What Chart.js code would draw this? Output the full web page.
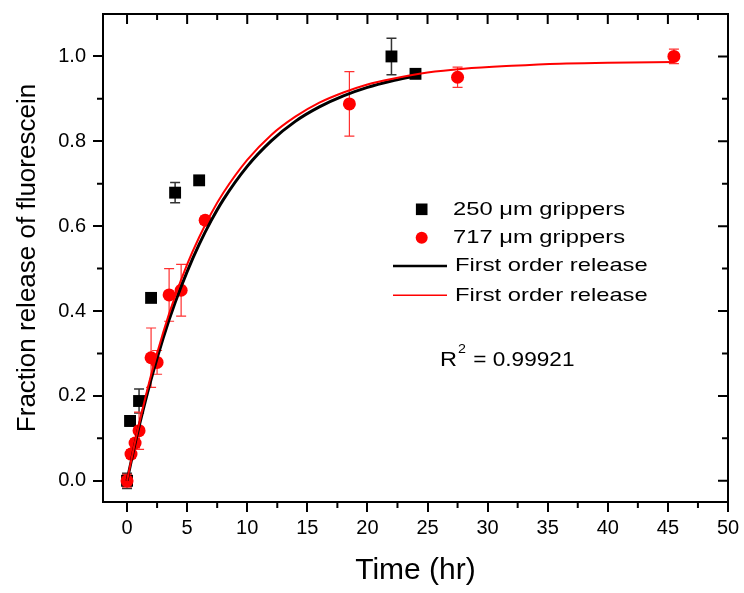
<!DOCTYPE html>
<html><head><meta charset="utf-8">
<script src="https://cdn.jsdelivr.net/npm/chart.js@4.4.0/dist/chart.umd.min.js"></script>
<style>html,body{margin:0;padding:0;background:#fff;}#wrap{width:744px;height:593px;}</style>
</head><body><div id="wrap"><canvas id="c" width="744" height="593"></canvas></div>
<script>
// ---- data ----
const blackTime = [0, 0.25, 1, 2, 4, 6, 22, 24];
const blackFrac = [0.0, 0.141, 0.188, 0.431, 0.679, 0.708, 1.0, 0.959];
const blackErr  = [0.018, 0.012, 0.028, 0.008, 0.024, 0.01, 0.043, 0.008];

const redTime = [0, 0.33, 0.67, 1, 2, 2.5, 3.5, 4.5, 6.5, 18.5, 27.5, 45.5];
const redFrac = [0.0, 0.063, 0.089, 0.118, 0.29, 0.279, 0.438, 0.449, 0.614, 0.888, 0.951, 1.0];
const redErr  = [0.015, 0.01, 0.01, 0.044, 0.07, 0.028, 0.062, 0.061, 0.01, 0.076, 0.024, 0.017];

const blackFitTime = [0, 0.5, 1, 2, 3, 4, 5, 6, 7, 8, 10, 12, 14, 16, 18, 20, 22, 24];
const blackFitFrac = [0, 0.066, 0.128, 0.239, 0.336, 0.420, 0.493, 0.557, 0.613, 0.662, 0.741, 0.801, 0.847, 0.881, 0.907, 0.927, 0.942, 0.954];

const redFitTime = [0, 0.5, 1, 2, 3, 4, 5, 6, 7, 8, 10, 12, 14, 16, 18, 20, 22, 25, 28, 32, 36, 40, 45.5];
const redFitFrac = [0, 0.069, 0.133, 0.249, 0.349, 0.435, 0.510, 0.574, 0.630, 0.678, 0.756, 0.815, 0.858, 0.891, 0.915, 0.934, 0.947, 0.962, 0.971, 0.978, 0.983, 0.985, 0.987];

const xTicks = [0, 5, 10, 15, 20, 25, 30, 35, 40, 45, 50];
const xMinorTicks = [2.5, 7.5, 12.5, 17.5, 22.5, 27.5, 32.5, 37.5, 42.5, 47.5];
const yTicks = [0.0, 0.2, 0.4, 0.6, 0.8, 1.0];
const yMinorTicks = [0.1, 0.3, 0.5, 0.7, 0.9];

const legendLabels = ['250 \u03bcm grippers', '717 \u03bcm grippers', 'First order release', 'First order release'];
const xTitle = 'Time (hr)';
const yTitle = 'Fraction release of fluorescein';
const r2Value = '0.99921';

// ---- chart ----
const FONT = "'Liberation Sans', Arial, sans-serif";
Chart.defaults.font.family = FONT;
Chart.defaults.color = '#000';

const pts = (xs, ys) => xs.map((v, i) => ({x: v, y: ys[i]}));

function drawErr(ctx, xs, ys, xv, yv, ev, color, lw) {
  ctx.save();
  ctx.strokeStyle = color; ctx.lineWidth = lw;
  for (let i = 0; i < xv.length; i++) {
    const px = xs.getPixelForValue(xv[i]);
    const y1 = ys.getPixelForValue(yv[i] + ev[i]);
    const y2 = ys.getPixelForValue(yv[i] - ev[i]);
    ctx.beginPath();
    ctx.moveTo(px, y1); ctx.lineTo(px, y2);
    ctx.moveTo(px - 5, y1); ctx.lineTo(px + 5, y1);
    ctx.moveTo(px - 5, y2); ctx.lineTo(px + 5, y2);
    ctx.stroke();
  }
  ctx.restore();
}
function sText(ctx, txt, x, y, size, sx) {
  ctx.save();
  ctx.font = size + 'px ' + FONT;
  ctx.fillStyle = '#000';
  ctx.textBaseline = 'middle'; ctx.textAlign = 'left';
  ctx.translate(x, y); ctx.scale(sx, 1);
  ctx.fillText(txt, 0, 0);
  ctx.restore();
}

const decor = {
  id: 'decor',
  beforeDatasetsDraw(chart) {
    const {ctx, scales: {x, y}} = chart;
    drawErr(ctx, x, y, blackTime, blackFrac, blackErr, '#333', 1.5);
    drawErr(ctx, x, y, redTime, redFrac, redErr, '#ff3030', 1.2);
  },
  afterDraw(chart) {
    const {ctx, chartArea: a, scales: {x, y}} = chart;
    ctx.save();
    ctx.strokeStyle = '#000'; ctx.lineWidth = 2;
    ctx.beginPath();
    ctx.moveTo(a.left - 1, a.top); ctx.lineTo(a.right, a.top); ctx.lineTo(a.right, a.bottom + 1);
    xTicks.forEach(v => { const p = x.getPixelForValue(v); ctx.moveTo(p, a.top); ctx.lineTo(p, a.top + 10); });
    xMinorTicks.forEach(v => { const p = x.getPixelForValue(v);
      ctx.moveTo(p, a.top); ctx.lineTo(p, a.top + 6);
      ctx.moveTo(p, a.bottom); ctx.lineTo(p, a.bottom + 6); });
    yTicks.forEach(v => { const p = y.getPixelForValue(v); ctx.moveTo(a.right, p); ctx.lineTo(a.right - 10, p); });
    yMinorTicks.forEach(v => { const p = y.getPixelForValue(v);
      ctx.moveTo(a.right, p); ctx.lineTo(a.right - 6, p);
      ctx.moveTo(a.left, p); ctx.lineTo(a.left - 6, p); });
    ctx.stroke();

    // legend
    ctx.fillStyle = '#000';
    ctx.fillRect(421.7 - 5.8, 209.3 - 5.8, 11.6, 11.6);
    ctx.fillStyle = '#ff0000';
    ctx.beginPath(); ctx.arc(421.7, 237.7, 6, 0, Math.PI * 2); ctx.fill();
    ctx.strokeStyle = '#000'; ctx.lineWidth = 2.5;
    ctx.beginPath(); ctx.moveTo(393, 266); ctx.lineTo(447, 266); ctx.stroke();
    ctx.strokeStyle = '#ff0000'; ctx.lineWidth = 1.5;
    ctx.beginPath(); ctx.moveTo(393, 295.3); ctx.lineTo(447, 295.3); ctx.stroke();
    sText(ctx, legendLabels[0], 453, 209.3, 19, 1.25);
    sText(ctx, legendLabels[1], 453, 237.7, 19, 1.25);
    sText(ctx, legendLabels[2], 455, 266, 19, 1.25);
    sText(ctx, legendLabels[3], 455, 295.3, 19, 1.25);

    // R^2
    sText(ctx, 'R', 440, 360, 21, 1.12);
    sText(ctx, '2', 458, 349, 13, 1.1);
    sText(ctx, ' = ' + r2Value, 467, 360, 20, 1.13);
    ctx.restore();
  }
};

new Chart(document.getElementById('c'), {
  type: 'scatter',
  data: {
    datasets: [
      { label: legendLabels[3], data: pts(redFitTime, redFitFrac), showLine: true, borderColor: '#ff0000',
        borderWidth: 2, pointRadius: 0, cubicInterpolationMode: 'monotone', order: 0 },
      { label: legendLabels[2], data: pts(blackFitTime, blackFitFrac), showLine: true, borderColor: '#000',
        borderWidth: 3, pointRadius: 0, cubicInterpolationMode: 'monotone', order: 1 },
      { label: legendLabels[1], data: pts(redTime, redFrac), pointStyle: 'circle', pointRadius: 6.5,
        backgroundColor: '#ff0000', borderColor: '#ff0000', borderWidth: 0, order: 2 },
      { label: legendLabels[0], data: pts(blackTime, blackFrac), pointStyle: 'rect', pointRadius: 8.4,
        backgroundColor: '#000', borderColor: '#000', borderWidth: 0, order: 3 }
    ]
  },
  options: {
    responsive: false, animation: false, devicePixelRatio: 1,
    layout: { padding: { left: 0, right: 16, top: 14, bottom: 0 } },
    plugins: { legend: { display: false }, tooltip: { enabled: false } },
    scales: {
      x: {
        type: 'linear', min: -2, max: 50,
        afterBuildTicks: s => { s.ticks = xTicks.map(v => ({value: v})); },
        afterFit: s => { s.height = 91; s.paddingLeft = 0; s.paddingRight = 0; s.paddingTop = 0; s.paddingBottom = 0; },
        ticks: { autoSkip: false, maxRotation: 0, padding: 4, font: { size: 20 }, color: '#000',
          callback: v => String(v) },
        grid: { display: true, drawOnChartArea: false, drawTicks: true, tickLength: 10, color: '#000', lineWidth: 2, tickWidth: 2 },
        border: { display: true, color: '#000', width: 2 },
        title: { display: true, text: xTitle, font: { size: 30 }, color: '#000', padding: { top: 0, bottom: 4 } }
      },
      y: {
        type: 'linear', min: -0.05, max: 1.1,
        afterBuildTicks: s => { s.ticks = yTicks.map(v => ({value: v})); },
        afterFit: s => { s.width = 103; s.paddingLeft = 0; s.paddingRight = 0; s.paddingTop = 0; s.paddingBottom = 0; },
        ticks: { autoSkip: false, padding: 7, font: { size: 20 }, color: '#000',
          callback: v => Number(v).toFixed(1) },
        grid: { display: true, drawOnChartArea: false, drawTicks: true, tickLength: 10, color: '#000', lineWidth: 2, tickWidth: 2 },
        border: { display: true, color: '#000', width: 2 },
        title: { display: true, text: yTitle, font: { size: 26 }, color: '#000', padding: { top: 12, bottom: 0 } }
      }
    }
  },
  plugins: [decor]
});
</script>
</body></html>
